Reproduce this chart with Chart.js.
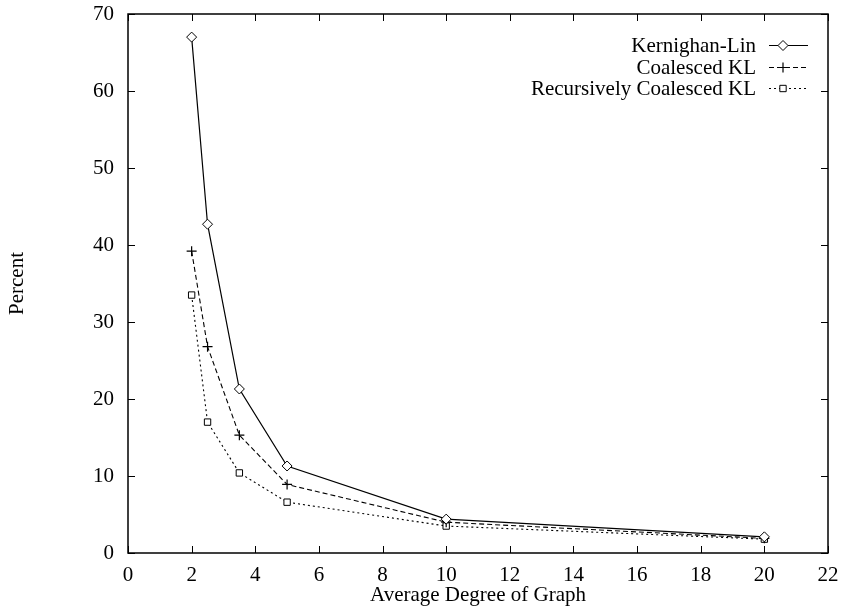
<!DOCTYPE html>
<html>
<head>
<meta charset="utf-8">
<script src="https://cdn.jsdelivr.net/npm/chart.js@4/dist/chart.umd.min.js"></script>
<style>
html,body{margin:0;padding:0;background:#fff;}
#wrap{width:841px;height:609px;}
</style>
</head>
<body>
<div id="wrap"><canvas id="c" width="841" height="609"></canvas></div>
<script>
const degrees = [2, 2.5, 3.5, 5, 10, 20];
const klValues = [67.0, 42.7, 21.3, 11.3, 4.4, 2.1];
const coalescedValues = [39.2, 26.8, 15.3, 8.9, 4.0, 1.9];
const recursiveValues = [33.5, 17.0, 10.4, 6.6, 3.5, 1.8];
const seriesNames = ["Kernighan-Lin", "Coalesced KL", "Recursively Coalesced KL"];
const xTitle = "Average Degree of Graph";
const yTitle = "Percent";

const FONT = "'Liberation Serif', 'Times New Roman', serif";
const FS = 21;

function pts(vals){ return degrees.map((d,i)=>({x:d,y:vals[i]})); }

const datasets = [
  {label: seriesNames[0], data: pts(klValues), borderColor:'#000', borderWidth:1.2,
   pointStyle:'rectRot', pointRadius:5, pointBorderColor:'#000', pointBackgroundColor:'#fff', pointBorderWidth:1, borderDash:[]},
  {label: seriesNames[1], data: pts(coalescedValues), borderColor:'#000', borderWidth:1.1,
   pointStyle:'cross', pointRadius:5, pointBorderColor:'#000', pointBackgroundColor:'#fff', pointBorderWidth:1.2, borderDash:[5,3]},
  {label: seriesNames[2], data: pts(recursiveValues), borderColor:'#000', borderWidth:1.1,
   pointStyle:'rect', pointRadius:4.5, pointBorderColor:'#000', pointBackgroundColor:'#fff', pointBorderWidth:1, borderDash:[2,3]}
];

const framePlugin = {
  id:'frame',
  afterDatasetsDraw(chart){
    const ctx = chart.ctx, a = chart.chartArea;
    const xs = chart.scales.x, ys = chart.scales.y;
    ctx.save();
    ctx.strokeStyle = '#000';
    ctx.lineWidth = 1.5;
    ctx.strokeRect(a.left, a.top, a.right - a.left, a.bottom - a.top);
    ctx.lineWidth = 1;
    const L = 7;
    ctx.beginPath();
    xs.ticks.forEach(t=>{
      const px = Math.round(xs.getPixelForValue(t.value)) + 0.5;
      ctx.moveTo(px, a.bottom); ctx.lineTo(px, a.bottom - L);
      ctx.moveTo(px, a.top); ctx.lineTo(px, a.top + L);
    });
    ys.ticks.forEach(t=>{
      const py = Math.round(ys.getPixelForValue(t.value)) + 0.5;
      ctx.moveTo(a.left, py); ctx.lineTo(a.left + L, py);
      ctx.moveTo(a.right, py); ctx.lineTo(a.right - L, py);
    });
    ctx.stroke();

    // legend
    const textRight = 756, lineStart = 769, lineEnd = 808, sym = 783;
    const rows = [45, 67, 88];
    ctx.font = FS + "px " + FONT;
    ctx.fillStyle = '#000';
    ctx.textAlign = 'right';
    ctx.textBaseline = 'middle';
    chart.data.datasets.forEach((ds, i)=>{
      const y = rows[i];
      ctx.fillText(ds.label, textRight, y + 1);
      ctx.save();
      ctx.lineWidth = ds.borderWidth;
      ctx.setLineDash(ds.borderDash);
      ctx.beginPath();
      ctx.moveTo(lineStart, y + 0.5); ctx.lineTo(lineEnd, y + 0.5);
      ctx.stroke();
      ctx.restore();
      ctx.save();
      ctx.fillStyle = ds.pointBackgroundColor;
      ctx.strokeStyle = ds.pointBorderColor;
      ctx.lineWidth = ds.pointBorderWidth;
      Chart.helpers.drawPoint(ctx, {pointStyle: ds.pointStyle, radius: ds.pointRadius, rotation: 0, borderWidth: ds.pointBorderWidth}, sym, y + 0.5);
      ctx.restore();
    });
    ctx.restore();
  }
};

new Chart(document.getElementById('c'), {
  type:'line',
  data:{datasets},
  options:{
    responsive:false,
    animation:false,
    layout:{padding:{left:0, right:13, top:14, bottom:0}},
    plugins:{legend:{display:false}, tooltip:{enabled:false}},
    elements:{line:{tension:0, fill:false}},
    scales:{
      x:{type:'linear', min:0, max:22,
         grid:{display:false, drawTicks:false},
         border:{display:false},
         ticks:{stepSize:2, color:'#000', font:{family:FONT, size:FS}, padding:10, maxRotation:0, autoSkip:false},
         title:{display:true, text:xTitle, color:'#000', font:{family:FONT, size:FS}, padding:{top:0,bottom:1}},
         afterFit(s){ s.height = 56; s.paddingLeft = 0; s.paddingRight = 0; }
      },
      y:{type:'linear', min:0, max:70,
         grid:{display:false, drawTicks:false},
         border:{display:false},
         ticks:{stepSize:10, color:'#000', font:{family:FONT, size:FS}, padding:14},
         title:{display:true, text:yTitle, color:'#000', font:{family:FONT, size:FS}, padding:{top:5,bottom:0}},
         afterFit(s){ s.width = 128; s.paddingTop = 0; s.paddingBottom = 0; }
      }
    }
  },
  plugins:[framePlugin]
});
</script>
</body>
</html>
